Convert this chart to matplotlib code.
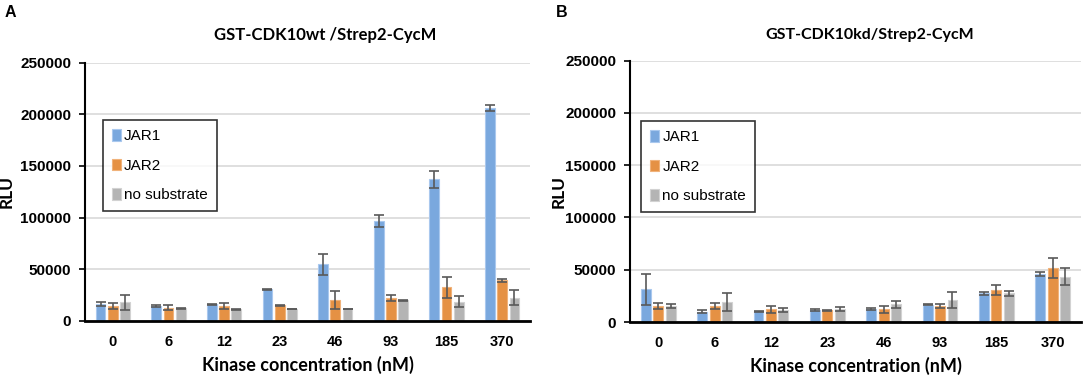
import matplotlib
matplotlib.use("Agg")
import matplotlib.pyplot as plt
import numpy as np

concentrations = ["0", "6", "12", "23", "46", "93", "185", "370"]
series_names = ["JAR1", "JAR2", "no substrate"]

# panel A: GST-CDK10wt
wt_jar1 = [16400, 14800, 16000, 30500, 54700, 96500, 137000, 206000]
wt_jar2 = [14500, 12900, 14500, 15000, 20300, 22500, 32500, 39500]
wt_none = [18000, 12500, 11500, 11500, 11500, 20000, 18700, 22500]
wt_jar1_err = [2000, 1000, 500, 500, 10000, 6000, 8000, 2500]
wt_jar2_err = [3000, 2500, 3000, 500, 9000, 3000, 10000, 1500]
wt_none_err = [7000, 500, 500, 300, 300, 500, 5000, 7000]

# panel B: GST-CDK10kd
kd_jar1 = [31200, 9900, 10200, 11500, 12400, 16600, 27400, 45900]
kd_jar2 = [15300, 15300, 12100, 11100, 12100, 15300, 30600, 51300]
kd_none = [15300, 19100, 11500, 12400, 16900, 21000, 27400, 43300]
kd_jar1_err = [14500, 1500, 300, 500, 1000, 500, 1500, 1500]
kd_jar2_err = [3000, 3000, 3000, 500, 3500, 2000, 5000, 9500]
kd_none_err = [1500, 8500, 1500, 2000, 3500, 8000, 2500, 8000]

colors = ["#7aa8de", "#e59144", "#b4b4b4"]
edge_colors = ["#a9c8ee", "#f0b27a", "#d2d2d2"]

label_font = ["Lato", "DejaVu Sans"]
tick_font = ["Liberation Sans", "DejaVu Sans"]


def draw_panel(ax, values, errors, title, title_size, title_x, ylabel_x, legend_anchor):
    x = np.arange(len(concentrations))
    offsets = [-0.22, 0.0, 0.22]
    for vals, errs, off, c, ec, name in zip(values, errors, offsets, colors, edge_colors, series_names):
        ax.bar(x + off, vals, width=0.175, color=c, edgecolor=ec, linewidth=0.8, label=name, zorder=2)
        ax.errorbar(x + off, vals, yerr=errs, fmt="none", ecolor="#595959",
                    elinewidth=1.2, capsize=3.5, capthick=1.2, zorder=3)
    ax.set_xlim(-0.5, 7.5)
    ax.set_ylim(0, 250000)
    ax.set_yticks(np.arange(0, 250001, 50000))
    ax.set_xticks(x)
    ax.set_xticklabels(concentrations)
    ax.grid(axis="y", color="#d9d9d9", linewidth=1.2, zorder=0)
    ax.set_axisbelow(True)
    for s in ["top", "right"]:
        ax.spines[s].set_visible(False)
    ax.spines["left"].set_linewidth(1.5)
    ax.spines["bottom"].set_linewidth(2)
    ax.tick_params(axis="x", length=0, pad=10)
    ax.tick_params(axis="y", length=4, width=1.2, pad=6)
    for lab in ax.get_xticklabels():
        lab.set_family(tick_font)
        lab.set_fontweight("bold")
        lab.set_fontsize(10.5)
    for lab in ax.get_yticklabels():
        lab.set_family(tick_font)
        lab.set_fontweight("bold")
        lab.set_fontsize(11)
    ax.set_ylabel("RLU", family=label_font, fontweight="bold", fontsize=12.5)
    ax.yaxis.set_label_coords(ylabel_x, 0.5)
    ax.set_xlabel("Kinase concentration (nM)", family=label_font, fontweight="bold",
                  fontsize=13, labelpad=5)
    ax.set_title(title, family=label_font, fontweight="bold", fontsize=title_size,
                 pad=16, x=title_x)
    leg = ax.legend(loc="upper left", bbox_to_anchor=legend_anchor, frameon=True,
                    fancybox=False, edgecolor="black", handlelength=0.6, handleheight=0.8,
                    handletextpad=0.2, labelspacing=1.0, borderpad=0.6, borderaxespad=0,
                    prop={"family": tick_font, "size": 11})
    leg.get_frame().set_linewidth(1.2)


fig = plt.figure(figsize=(10.84, 3.8), dpi=100)
ax1 = fig.add_axes([0.0784, 0.1553, 0.4105, 0.680])
ax2 = fig.add_axes([0.5812, 0.1526, 0.416, 0.6876])

draw_panel(ax1, [wt_jar1, wt_jar2, wt_none], [wt_jar1_err, wt_jar2_err, wt_none_err],
           "GST-CDK10wt /Strep2-CycM", 12, 0.539, -0.157, (0.04, 0.778))
draw_panel(ax2, [kd_jar1, kd_jar2, kd_none], [kd_jar1_err, kd_jar2_err, kd_none_err],
           "GST-CDK10kd/Strep2-CycM", 11.5, 0.532, -0.14, (0.024, 0.769))

fig.text(0.004, 0.968, "A", family=tick_font, fontweight="bold", fontsize=11.5, va="center")
fig.text(0.513, 0.968, "B", family=tick_font, fontweight="bold", fontsize=11.5, va="center")

fig.savefig("out.png", dpi=100)
